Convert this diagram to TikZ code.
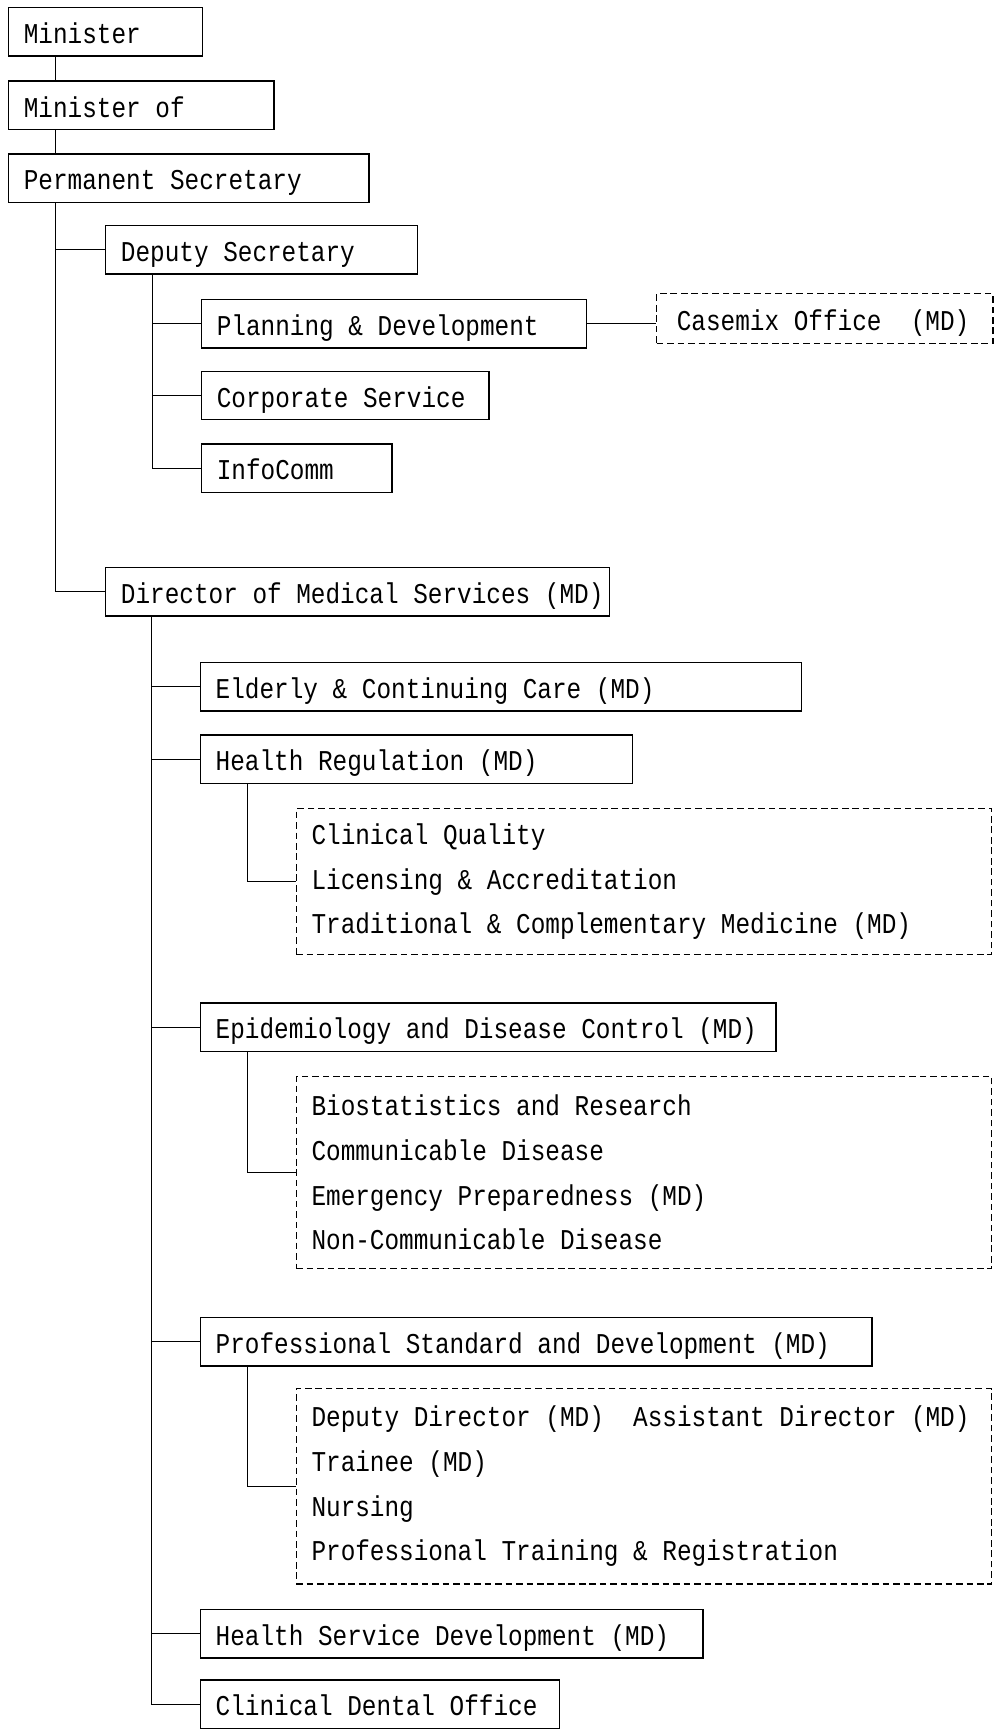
\documentclass[tikz,border=0pt]{standalone}
\usepackage{fontspec}
\newfontfamily\orgfont[FakeStretch=0.85]{Liberation Mono}
\newcommand\lt[2]{\makebox[\dimexpr#1pt-28pt\relax][l]{#2}}
\newcommand\natsp{\spaceskip=0pt\xspaceskip=0pt\relax}
\begin{document}
\begin{tikzpicture}[x=1pt,y=-1pt,
  box/.style={draw, line width=1.3pt, inner xsep=14pt, inner ysep=0pt,
    minimum height=44pt, text height=21pt, text depth=0pt, anchor=north west,
    font=\orgfont\fontsize{26}{30}\selectfont},
  dbox/.style={draw, dash pattern=on 6pt off 3.5pt, line width=1pt,
    inner xsep=14pt, inner ysep=0pt, anchor=north west, align=left,
    font=\orgfont\fontsize{26}{40.5}\selectfont},
  link/.style={line width=0.9pt}]
\useasboundingbox[fill=white] (0,0) rectangle (901,1568);
% spine coordinates
\coordinate (s0) at (50,0);
\coordinate (d0) at (138,0);
\coordinate (m0) at (137,0);
\coordinate (h0) at (224,0);
% boxes
\node[box, minimum width=176pt] (min) at (7,6) {\lt{176}{Minister}};
\node[box, minimum width=241pt] (minof) at (7,73) {\lt{241}{Minister of}};
\node[box, minimum width=327pt] (perm) at (7,139) {\lt{327}{Permanent Secretary}};
\node[box, minimum width=283pt] (dep) at (95,204) {\lt{283}{Deputy Secretary}};
\node[box, minimum width=349pt] (plan) at (182,271) {\lt{349}{Planning \& Development}};
\node[box, dash pattern=on 6pt off 3.5pt, line width=1pt, minimum width=305pt, minimum height=45pt] (case) at (595,266) {\lt{305}{\,Casemix Office\ \ (MD)}};
\node[box, minimum width=261pt] (corp) at (182,336) {\lt{261}{Corporate Service}};
\node[box, minimum width=173pt] (info) at (182,402) {\lt{173}{InfoComm}};
\node[box, minimum width=457pt] (dms) at (95,514) {\lt{457}{Director of Medical Services (MD)}};
\node[box, minimum width=545pt] (eld) at (181,600) {\lt{545}{Elderly \& Continuing Care (MD)}};
\node[box, minimum width=392pt] (hr) at (181,666) {\lt{392}{Health Regulation (MD)}};
\node[dbox, minimum width=631pt, minimum height=132pt, text width=603pt] (hrsub) at (268,733)
  {\natsp Clinical Quality\\Licensing \& Accreditation\\Traditional \& Complementary Medicine (MD)};
\node[box, minimum width=522pt] (epi) at (181,909) {\lt{522}{Epidemiology and Disease Control (MD)}};
\node[dbox, minimum width=631pt, minimum height=174pt, text width=603pt] (episub) at (268,976)
  {\natsp Biostatistics and Research\\Communicable Disease\\Emergency Preparedness (MD)\\Non-Communicable Disease};
\node[box, minimum width=609pt] (psd) at (181,1194) {\lt{609}{Professional Standard and Development (MD)}};
\node[dbox, minimum width=631pt, minimum height=177pt, text width=603pt] (psdsub) at (268,1259)
  {\natsp Deputy Director (MD)\ \ Assistant Director (MD)\\Trainee (MD)\\Nursing\\Professional Training \& Registration};
\node[box, minimum width=456pt] (hsd) at (181,1459) {\lt{456}{Health Service Development (MD)}};
\node[box, minimum width=326pt] (cdo) at (181,1523) {\lt{326}{Clinical Dental Office}};
% connectors
\draw[link] (min.south -| s0) -- (minof.north -| s0);
\draw[link] (minof.south -| s0) -- (perm.north -| s0);
\draw[link] (perm.south -| s0) |- (dep.west);
\draw[link] (perm.south -| s0) |- (dms.west);
\draw[link] (dep.south -| d0) |- (plan.west);
\draw[link] (dep.south -| d0) |- (corp.west);
\draw[link] (dep.south -| d0) |- (info.west);
\draw[link] (plan.east) -- (plan.east -| case.west);
\draw[link] (dms.south -| m0) |- (eld.west);
\draw[link] (dms.south -| m0) |- (hr.west);
\draw[link] (dms.south -| m0) |- (epi.west);
\draw[link] (dms.south -| m0) |- (psd.west);
\draw[link] (dms.south -| m0) |- (hsd.west);
\draw[link] (dms.south -| m0) |- (cdo.west);
\draw[link] (hr.south -| h0) |- (hrsub.west);
\draw[link] (epi.south -| h0) |- (episub.west);
\draw[link] (psd.south -| h0) |- (psdsub.west);
\end{tikzpicture}
\end{document}
